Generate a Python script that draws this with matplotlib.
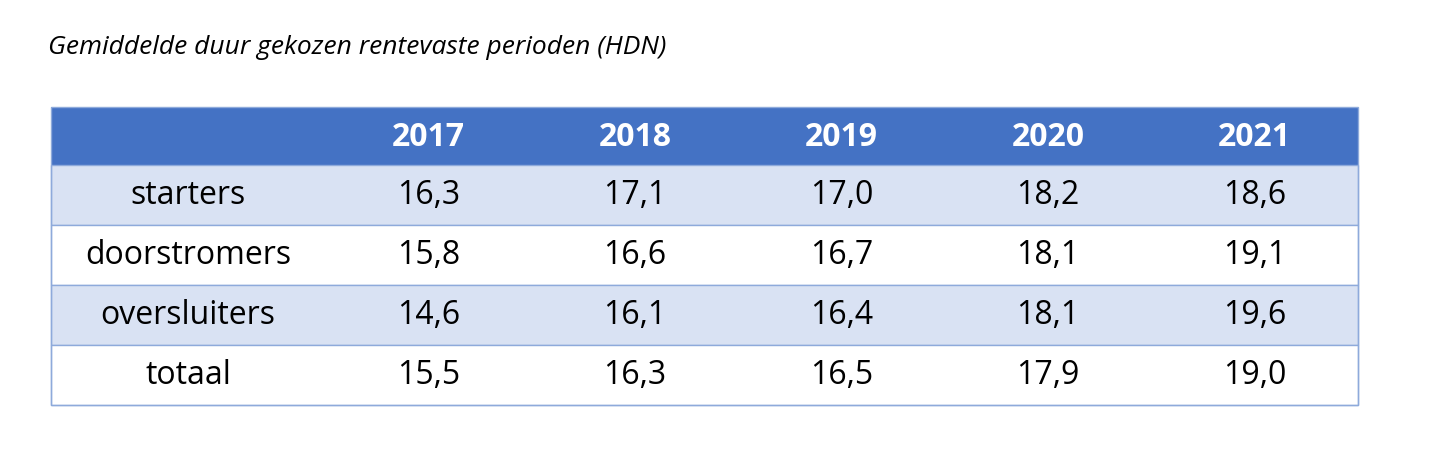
import matplotlib.pyplot as plt
from matplotlib.patches import Rectangle

title = "Gemiddelde duur gekozen rentevaste perioden (HDN)"
years = ["2017", "2018", "2019", "2020", "2021"]
groups = ["starters", "doorstromers", "oversluiters", "totaal"]
values = [
    [16.3, 17.1, 17.0, 18.2, 18.6],
    [15.8, 16.6, 16.7, 18.1, 19.1],
    [14.6, 16.1, 16.4, 18.1, 19.6],
    [15.5, 16.3, 16.5, 17.9, 19.0],
]

HEADER = "#4472C4"
BAND = "#D9E2F3"
EDGE = "#8EAADB"

plt.rcParams['font.family'] = ['Open Sans', 'DejaVu Sans']

fig = plt.figure(figsize=(14.4, 4.58), dpi=100)
ax = fig.add_axes([0, 0, 1, 1])
ax.set_xlim(0, 1440)
ax.set_ylim(458, 0)
ax.axis("off")

ax.text(48, 48, title, fontsize=19, style="italic", ha="left", va="center")

x0, first_w, col_w = 51, 274, 206.6
top, head_h, row_h = 107, 58, 60
right = x0 + first_w + col_w * len(years)

# header
ax.add_patch(Rectangle((x0, top), right - x0, head_h, color=HEADER, lw=0))
for j, y in enumerate(years):
    cx = x0 + first_w + col_w * (j + 0.5)
    ax.text(cx, top + head_h / 2 + 2, y, color="white", fontsize=23,
            fontweight="bold", ha="center", va="center")

for i, g in enumerate(groups):
    ry = top + head_h + row_h * i
    fc = BAND if i % 2 == 0 else "white"
    ax.add_patch(Rectangle((x0, ry), right - x0, row_h, facecolor=fc,
                           edgecolor=EDGE, lw=1))
    ax.text(x0 + first_w / 2, ry + row_h / 2, g, fontsize=23,
            ha="center", va="center")
    for j, v in enumerate(values[i]):
        cx = x0 + first_w + col_w * (j + 0.5)
        ax.text(cx, ry + row_h / 2, f"{v:.1f}".replace(".", ","),
                fontsize=23, ha="center", va="center")

ax.add_patch(Rectangle((x0, top), right - x0, head_h + row_h * len(groups),
                       fill=False, edgecolor=EDGE, lw=1))

fig.savefig("out.png", dpi=100)
